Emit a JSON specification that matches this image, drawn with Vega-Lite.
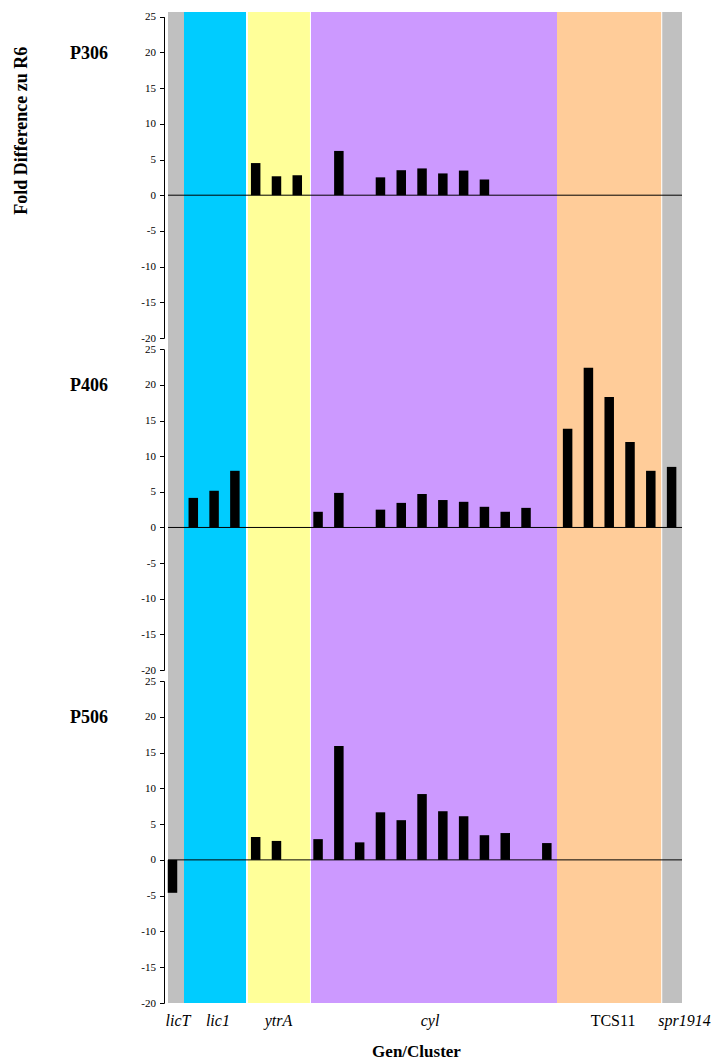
{
  "$schema": "https://vega.github.io/schema/vega-lite/v6.json",
  "background": "white",
  "padding": {"left": 12, "top": 10, "right": 0, "bottom": 0},
  "spacing": 0,
  "bounds": "flush",
  "title": {"text": "Fold Difference zu R6", "orient": "left", "anchor": "end", "fontSize": 18, "fontWeight": "bold", "font": "Liberation Serif", "color": "black", "offset": 39, "dx": -36},
  "config": {
    "font": "Liberation Serif",
    "view": {"stroke": null},
    "axis": {"grid": false, "domainColor": "black", "tickColor": "black", "labelColor": "black", "titleColor": "black", "labelFont": "Liberation Serif", "titleFont": "Liberation Serif"}
  },
  "datasets": {
    "bars": [
      {"panel": "P306", "pos": 4, "value": 4.5},
      {"panel": "P306", "pos": 5, "value": 2.65},
      {"panel": "P306", "pos": 6, "value": 2.8},
      {"panel": "P306", "pos": 8, "value": 6.2},
      {"panel": "P306", "pos": 10, "value": 2.5},
      {"panel": "P306", "pos": 11, "value": 3.5},
      {"panel": "P306", "pos": 12, "value": 3.75},
      {"panel": "P306", "pos": 13, "value": 3.05},
      {"panel": "P306", "pos": 14, "value": 3.45},
      {"panel": "P306", "pos": 15, "value": 2.2},
      {"panel": "P406", "pos": 1, "value": 4.15},
      {"panel": "P406", "pos": 2, "value": 5.15},
      {"panel": "P406", "pos": 3, "value": 7.95},
      {"panel": "P406", "pos": 7, "value": 2.2},
      {"panel": "P406", "pos": 8, "value": 4.85},
      {"panel": "P406", "pos": 10, "value": 2.5},
      {"panel": "P406", "pos": 11, "value": 3.45},
      {"panel": "P406", "pos": 12, "value": 4.7},
      {"panel": "P406", "pos": 13, "value": 3.85},
      {"panel": "P406", "pos": 14, "value": 3.6},
      {"panel": "P406", "pos": 15, "value": 2.9},
      {"panel": "P406", "pos": 16, "value": 2.2},
      {"panel": "P406", "pos": 17, "value": 2.75},
      {"panel": "P406", "pos": 19, "value": 13.85},
      {"panel": "P406", "pos": 20, "value": 22.4},
      {"panel": "P406", "pos": 21, "value": 18.3},
      {"panel": "P406", "pos": 22, "value": 12.0},
      {"panel": "P406", "pos": 23, "value": 7.95},
      {"panel": "P406", "pos": 24, "value": 8.5},
      {"panel": "P506", "pos": 0, "value": -4.6},
      {"panel": "P506", "pos": 4, "value": 3.2},
      {"panel": "P506", "pos": 5, "value": 2.65},
      {"panel": "P506", "pos": 7, "value": 2.9},
      {"panel": "P506", "pos": 8, "value": 15.9},
      {"panel": "P506", "pos": 9, "value": 2.45},
      {"panel": "P506", "pos": 10, "value": 6.65},
      {"panel": "P506", "pos": 11, "value": 5.55},
      {"panel": "P506", "pos": 12, "value": 9.2},
      {"panel": "P506", "pos": 13, "value": 6.8},
      {"panel": "P506", "pos": 14, "value": 6.1},
      {"panel": "P506", "pos": 15, "value": 3.45},
      {"panel": "P506", "pos": 16, "value": 3.75},
      {"panel": "P506", "pos": 18, "value": 2.35}
    ],
    "clusters": [
      {"cluster": "licT", "start": -0.216, "end": 0.553},
      {"cluster": "lic1", "start": 0.553, "end": 3.535},
      {"cluster": "ytrA", "start": 3.63, "end": 6.61},
      {"cluster": "cyl", "start": 6.66, "end": 18.49},
      {"cluster": "TCS11", "start": 18.49, "end": 23.5},
      {"cluster": "spr1914", "start": 23.55, "end": 24.5}
    ],
    "zero": [{"level": 0}]
  },
  "vconcat": [
    {
      "width": 514,
      "height": 326,
      "layer": [
        {
          "data": {"name": "clusters"},
          "mark": {"type": "rect"},
          "encoding": {
            "x": {"field": "start", "type": "quantitative", "scale": {"domain": [-0.216, 24.5], "nice": false, "zero": false, "padding": 0}, "axis": null},
            "x2": {"field": "end"},
            "color": {"field": "cluster", "type": "nominal", "legend": null, "scale": {"domain": ["licT", "lic1", "ytrA", "cyl", "TCS11", "spr1914"], "range": ["#C0C0C0", "#00CCFF", "#FFFF99", "#CC99FF", "#FFCC99", "#C0C0C0"]}}
          }
        },
        {
          "data": {"name": "bars"},
          "transform": [{"filter": "datum.panel == 'P306'"}],
          "mark": {"type": "bar", "orient": "vertical", "width": 9.5, "color": "black"},
          "encoding": {
            "x": {"field": "pos", "type": "quantitative", "scale": {"domain": [-0.216, 24.5], "nice": false, "zero": false, "padding": 0}, "axis": null},
            "y": {"field": "value", "type": "quantitative", "scale": {"domain": [-20, 25], "range": [326, 4.7], "nice": false, "zero": false},
              "axis": {"title": "P306", "titleAngle": 0, "titleAlign": "center", "titleBaseline": "middle", "titleX": -75.5, "titleY": 41, "titleFontSize": 18, "titleFontWeight": "bold", "values": [-20, -15, -10, -5, 0, 5, 10, 15, 20, 25], "labelExpr": "'' + datum.value", "labelFontSize": 11, "offset": 4, "tickSize": 4.5, "labelPadding": 4}}
          }
        },
        {
          "data": {"name": "zero"},
          "mark": {"type": "rule", "color": "black", "strokeWidth": 1},
          "encoding": {"y": {"field": "level", "type": "quantitative",
              "axis": {"title": "P306", "titleAngle": 0, "titleAlign": "center", "titleBaseline": "middle", "titleX": -75.5, "titleY": 41, "titleFontSize": 18, "titleFontWeight": "bold", "values": [-20, -15, -10, -5, 0, 5, 10, 15, 20, 25], "labelExpr": "'' + datum.value", "labelFontSize": 11, "offset": 4, "tickSize": 4.5, "labelPadding": 4}}}
        }
      ]
    },
    {
      "width": 514,
      "height": 332,
      "layer": [
        {
          "data": {"name": "clusters"},
          "mark": {"type": "rect"},
          "encoding": {
            "x": {"field": "start", "type": "quantitative", "scale": {"domain": [-0.216, 24.5], "nice": false, "zero": false, "padding": 0}, "axis": null},
            "x2": {"field": "end"},
            "color": {"field": "cluster", "type": "nominal", "legend": null, "scale": {"domain": ["licT", "lic1", "ytrA", "cyl", "TCS11", "spr1914"], "range": ["#C0C0C0", "#00CCFF", "#FFFF99", "#CC99FF", "#FFCC99", "#C0C0C0"]}}
          }
        },
        {
          "data": {"name": "bars"},
          "transform": [{"filter": "datum.panel == 'P406'"}],
          "mark": {"type": "bar", "orient": "vertical", "width": 9.5, "color": "black"},
          "encoding": {
            "x": {"field": "pos", "type": "quantitative", "scale": {"domain": [-0.216, 24.5], "nice": false, "zero": false, "padding": 0}, "axis": null},
            "y": {"field": "value", "type": "quantitative", "scale": {"domain": [-20, 25], "range": [332, 11.3], "nice": false, "zero": false},
              "axis": {"title": "P406", "titleAngle": 0, "titleAlign": "center", "titleBaseline": "middle", "titleX": -75.5, "titleY": 47, "titleFontSize": 18, "titleFontWeight": "bold", "values": [-20, -15, -10, -5, 0, 5, 10, 15, 20, 25], "labelExpr": "'' + datum.value", "labelFontSize": 11, "offset": 4, "tickSize": 4.5, "labelPadding": 4}}
          }
        },
        {
          "data": {"name": "zero"},
          "mark": {"type": "rule", "color": "black", "strokeWidth": 1},
          "encoding": {"y": {"field": "level", "type": "quantitative",
              "axis": {"title": "P406", "titleAngle": 0, "titleAlign": "center", "titleBaseline": "middle", "titleX": -75.5, "titleY": 47, "titleFontSize": 18, "titleFontWeight": "bold", "values": [-20, -15, -10, -5, 0, 5, 10, 15, 20, 25], "labelExpr": "'' + datum.value", "labelFontSize": 11, "offset": 4, "tickSize": 4.5, "labelPadding": 4}}}
        }
      ]
    },
    {
      "width": 514,
      "height": 333,
      "layer": [
        {
          "data": {"name": "clusters"},
          "mark": {"type": "rect"},
          "encoding": {
            "x": {"field": "start", "type": "quantitative", "scale": {"domain": [-0.216, 24.5], "nice": false, "zero": false, "padding": 0},
              "axis": {"title": "Gen/Cluster", "titleFontSize": 17, "titleFontWeight": "bold", "titleX": 248, "titleY": 53, "titleAlign": "center", "titleBaseline": "alphabetic", "domain": false, "ticks": false, "tickSize": 0, "labelPadding": 9, "labelFontSize": 16, "labelFlush": false, "labelOverlap": false, "labelBound": false,
                "values": [0.24, 2.16, 5.07, 12.36, 21.16, 24.5],
                "labelExpr": "datum.value < 1 ? 'licT' : datum.value < 3 ? 'lic1' : datum.value < 6 ? 'ytrA' : datum.value < 15 ? 'cyl' : datum.value < 23 ? 'TCS11' : 'spr1914'",
                "labelFontStyle": {"condition": {"test": "datum.value > 20 && datum.value < 23", "value": "normal"}, "value": "italic"},
                "labelOffset": {"condition": {"test": "datum.value > 24", "value": 2}, "value": 0}}},
            "x2": {"field": "end"},
            "color": {"field": "cluster", "type": "nominal", "legend": null, "scale": {"domain": ["licT", "lic1", "ytrA", "cyl", "TCS11", "spr1914"], "range": ["#C0C0C0", "#00CCFF", "#FFFF99", "#CC99FF", "#FFCC99", "#C0C0C0"]}}
          }
        },
        {
          "data": {"name": "bars"},
          "transform": [{"filter": "datum.panel == 'P506'"}],
          "mark": {"type": "bar", "orient": "vertical", "width": 9.5, "color": "black"},
          "encoding": {
            "x": {"field": "pos", "type": "quantitative", "scale": {"domain": [-0.216, 24.5], "nice": false, "zero": false, "padding": 0},
              "axis": {"title": "Gen/Cluster", "titleFontSize": 17, "titleFontWeight": "bold", "titleX": 248, "titleY": 53, "titleAlign": "center", "titleBaseline": "alphabetic", "domain": false, "ticks": false, "tickSize": 0, "labelPadding": 9, "labelFontSize": 16, "labelFlush": false, "labelOverlap": false, "labelBound": false,
                "values": [0.24, 2.16, 5.07, 12.36, 21.16, 24.5],
                "labelExpr": "datum.value < 1 ? 'licT' : datum.value < 3 ? 'lic1' : datum.value < 6 ? 'ytrA' : datum.value < 15 ? 'cyl' : datum.value < 23 ? 'TCS11' : 'spr1914'",
                "labelFontStyle": {"condition": {"test": "datum.value > 20 && datum.value < 23", "value": "normal"}, "value": "italic"},
                "labelOffset": {"condition": {"test": "datum.value > 24", "value": 2}, "value": 0}}},
            "y": {"field": "value", "type": "quantitative", "scale": {"domain": [-20, 25], "range": [333, 11], "nice": false, "zero": false},
              "axis": {"title": "P506", "titleAngle": 0, "titleAlign": "center", "titleBaseline": "middle", "titleX": -75.5, "titleY": 47, "titleFontSize": 18, "titleFontWeight": "bold", "values": [-20, -15, -10, -5, 0, 5, 10, 15, 20, 25], "labelExpr": "'' + datum.value", "labelFontSize": 11, "offset": 4, "tickSize": 4.5, "labelPadding": 4}}
          }
        },
        {
          "data": {"name": "zero"},
          "mark": {"type": "rule", "color": "black", "strokeWidth": 1},
          "encoding": {"y": {"field": "level", "type": "quantitative",
              "axis": {"title": "P506", "titleAngle": 0, "titleAlign": "center", "titleBaseline": "middle", "titleX": -75.5, "titleY": 47, "titleFontSize": 18, "titleFontWeight": "bold", "values": [-20, -15, -10, -5, 0, 5, 10, 15, 20, 25], "labelExpr": "'' + datum.value", "labelFontSize": 11, "offset": 4, "tickSize": 4.5, "labelPadding": 4}}}
        }
      ]
    }
  ]
}
